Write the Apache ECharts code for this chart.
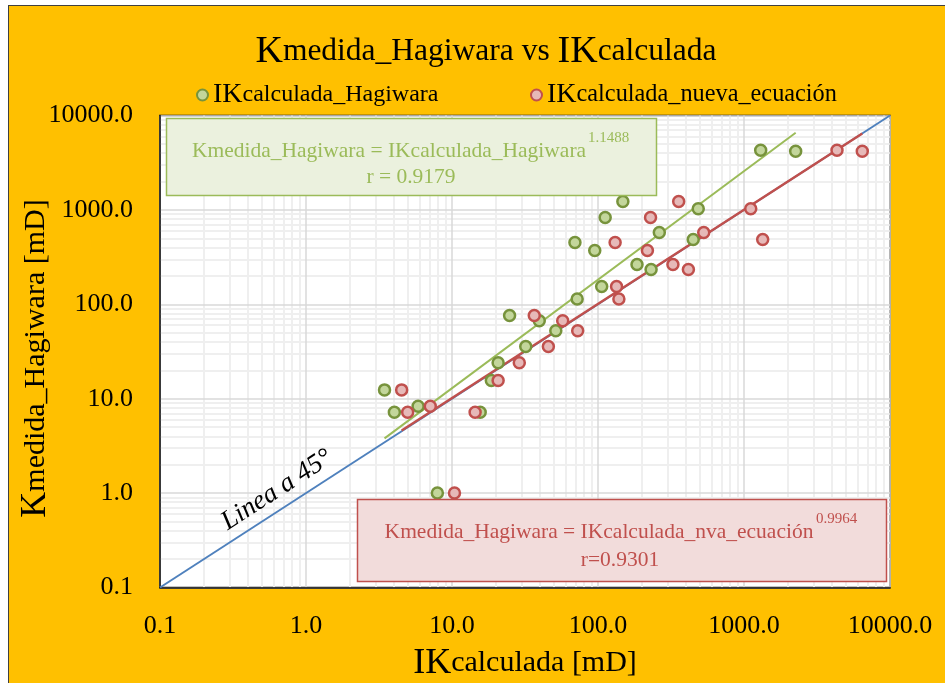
<!DOCTYPE html>
<html><head><meta charset="utf-8">
<script src="https://cdn.jsdelivr.net/npm/echarts@6/dist/echarts.min.js"></script>
<style>
html,body{margin:0;padding:0;background:#fff;overflow:hidden;width:945px;height:683px;}
#frame{position:absolute;left:8px;top:5px;width:945px;height:690px;background:#FFC000;border-left:1.5px solid #404040;border-top:1.5px solid #404040;}
#chart{position:absolute;left:0;top:0;width:945px;height:683px;}
</style></head><body>
<div id="frame"></div><div id="chart"></div>
<script>
// Kmedida_Hagiwara (shared y values), and the two calculated IK series (x values)
const kMedida    = [12.4, 7.2, 8.3, 1.0, 7.2, 15.6, 24, 76, 35.7, 67, 52.5, 451, 114, 371, 154, 831, 1228, 264, 234, 576, 486, 1028, 4289, 4188];
const ikHagiwara = [3.45, 4.03, 5.86, 7.94, 15.6, 18.6, 20.7, 24.8, 32, 39.6, 51.4, 69.5, 72, 95, 106, 112, 148, 185, 231, 263, 449, 486, 1301, 2259];
const ikNueva    = [4.52, 4.97, 7.1, 10.4, 14.4, 20.7, 28.9, 36.6, 45.7, 57.3, 72.6, 131, 139, 218, 134, 229, 357, 326, 416, 530, 1343, 1112, 4335, 6460];
// trendlines (end points) and 45° line
const trendHagiwaraX = [3.45, 2259];
const trendHagiwaraY = [3.8, 6560];
const trendNuevaX = [4.52, 6460];
const trendNuevaY = [4.6, 6445];
const line45X = [0.1, 10000];
const line45Y = [0.1, 10000];
const tickLabels = ['0.1', '1.0', '10.0', '100.0', '1000.0', '10000.0'];
const decades = [0.1, 1, 10, 100, 1000];
const minorSteps = [2, 3, 4, 5, 6, 7, 8, 9];

const FONT = "'Liberation Serif', 'Times New Roman', serif";
const zip = (xs, ys) => xs.map((x, i) => [x, ys[i]]);
const minorVals = [];
decades.forEach(d => minorSteps.forEach(m => minorVals.push(+(d * m).toPrecision(3))));

const tickFmt = v => { const i = Math.round(Math.log10(v)) + 1; return tickLabels[i] !== undefined ? tickLabels[i] : ''; };

const chart = echarts.init(document.getElementById('chart'), null, {renderer: 'canvas'});
const option = {
  backgroundColor: 'transparent',
  animation: false,
  title: {
    text: '{k|K}{r|medida_Hagiwara vs }{k|IK}{r|calculada}',
    left: 481, top: 28, textAlign: 'center',
    textStyle: {
      fontWeight: 'normal',
      rich: {
        k: {fontFamily: FONT, fontSize: 38, fontWeight: 'normal', color: '#000'},
        r: {fontFamily: FONT, fontSize: 31.5, fontWeight: 'normal', color: '#000'}
      }
    }
  },
  legend: [
    {
      data: ['IKcalculada_Hagiwara'], left: 191, top: 76, itemWidth: 11, itemHeight: 11, itemGap: 6,
      formatter: n => '{k|IK}{r|' + n.slice(2) + '}',
      textStyle: {rich: {k: {fontFamily: FONT, fontSize: 28, color: '#000'}, r: {fontFamily: FONT, fontSize: 24, color: '#000'}}}
    },
    {
      data: ['IKcalculada_nueva_ecuación'], left: 525, top: 76, itemWidth: 11, itemHeight: 11, itemGap: 6,
      formatter: n => '{k|IK}{r|' + n.slice(2) + '}',
      textStyle: {rich: {k: {fontFamily: FONT, fontSize: 28, color: '#000'}, r: {fontFamily: FONT, fontSize: 24.3, color: '#000'}}}
    }
  ],
  grid: {left: 160, top: 115.5, width: 730, height: 472, outerBoundsMode: 'none', containLabel: false, show: true, backgroundColor: '#fff', borderColor: '#111', borderWidth: 1.5},
  xAxis: {
    type: 'log', logBase: 10, min: 0.1, max: 10000, z: 1.5,
    name: '{k|IK}{r|calculada [mD]}', nameLocation: 'middle', nameGap: 58, nameMoveOverlap: false,
    nameTextStyle: {rich: {k: {fontFamily: FONT, fontSize: 36, color: '#000'}, r: {fontFamily: FONT, fontSize: 30, color: '#000'}}},
    axisLine: {show: true, lineStyle: {color: '#111', width: 1.5}},
    axisTick: {show: false},
    axisLabel: {formatter: tickFmt, fontFamily: FONT, fontSize: 26, color: '#000', margin: 26},
    splitLine: {show: true, lineStyle: {color: '#D9D9D9', width: 1.5}},
    minorTick: {show: false}, minorSplitLine: {show: false}
  },
  yAxis: {
    type: 'log', logBase: 10, min: 0.1, max: 10000, z: 1.5,
    name: '{k|K}{r|medida_Hagiwara [mD]}', nameLocation: 'middle', nameGap: 106, nameRotate: 90, nameMoveOverlap: false,
    nameTextStyle: {padding: [0, 14, 0, 0], rich: {k: {fontFamily: FONT, fontSize: 36, color: '#000'}, r: {fontFamily: FONT, fontSize: 30, color: '#000'}}},
    axisLine: {show: true, lineStyle: {color: '#111', width: 1.5}},
    axisTick: {show: false},
    axisLabel: {formatter: tickFmt, fontFamily: FONT, fontSize: 26, color: '#000', margin: 27},
    splitLine: {show: true, lineStyle: {color: '#D9D9D9', width: 1.5}}
  },
  series: [
    {
      name: 'minorGrid', type: 'line', data: [], z: 1, silent: true,
      markLine: {
        z: 1, silent: true, symbol: ['none', 'none'], label: {show: false}, animation: false,
        lineStyle: {color: '#EFEFEF', width: 2, type: 'solid'},
        emphasis: {disabled: true},
        data: minorVals.map(v => ({xAxis: v})).concat(minorVals.map(v => ({yAxis: v})))
      }
    },
    {
      name: 'Linea 45', type: 'line', data: zip(line45X, line45Y), symbol: 'none', z: 3, silent: true,
      lineStyle: {color: '#4F81BD', width: 2}
    },
    {
      name: 'Tendencia Hagiwara', type: 'line', data: zip(trendHagiwaraX, trendHagiwaraY), symbol: 'none', z: 3, silent: true,
      lineStyle: {color: '#9BBB59', width: 2}
    },
    {
      name: 'Tendencia nueva', type: 'line', data: zip(trendNuevaX, trendNuevaY), symbol: 'none', z: 4, silent: true,
      lineStyle: {color: '#C0504D', width: 2.5}
    },
    {
      name: 'IKcalculada_Hagiwara', type: 'scatter', z: 5,
      data: zip(ikHagiwara, kMedida), symbol: 'circle', symbolSize: 11,
      itemStyle: {color: '#C3D69B', borderColor: '#77933C', borderWidth: 2.5, opacity: 1}
    },
    {
      name: 'IKcalculada_nueva_ecuación', type: 'scatter', z: 5,
      data: zip(ikNueva, kMedida), symbol: 'circle', symbolSize: 11,
      itemStyle: {color: '#E6B9B8', borderColor: '#C0504D', borderWidth: 2.5, opacity: 1}
    }
  ],
  graphic: [
    {type: 'rect', z: 100, shape: {x: 166.5, y: 118.5, width: 490, height: 77}, style: {fill: '#EBF1DE', stroke: '#9BBB59', lineWidth: 1.5}},
    {type: 'text', z: 101, style: {x: 389, y: 151, text: 'Kmedida_Hagiwara = IKcalculada_Hagiwara', font: "21.5px " + FONT, fill: '#9BBB59', align: 'center', verticalAlign: 'middle'}},
    {type: 'text', z: 101, style: {x: 588, y: 138, text: '1.1488', font: "15px " + FONT, fill: '#9BBB59', align: 'left', verticalAlign: 'middle'}},
    {type: 'text', z: 101, style: {x: 411, y: 177, text: 'r = 0.9179', font: "21.5px " + FONT, fill: '#9BBB59', align: 'center', verticalAlign: 'middle'}},
    {type: 'rect', z: 100, shape: {x: 357.5, y: 499.5, width: 529, height: 82}, style: {fill: '#F2DCDB', stroke: '#C0504D', lineWidth: 1.5}},
    {type: 'text', z: 101, style: {x: 599, y: 532, text: 'Kmedida_Hagiwara = IKcalculada_nva_ecuación', font: "21.5px " + FONT, fill: '#C0504D', align: 'center', verticalAlign: 'middle'}},
    {type: 'text', z: 101, style: {x: 816, y: 519, text: '0.9964', font: "15px " + FONT, fill: '#C0504D', align: 'left', verticalAlign: 'middle'}},
    {type: 'text', z: 101, style: {x: 620, y: 560, text: 'r=0.9301', font: "21.5px " + FONT, fill: '#C0504D', align: 'center', verticalAlign: 'middle'}},
    {type: 'text', z: 101, x: 277, y: 490, rotation: Math.atan(472 / 730), style: {x: 0, y: 0, text: 'Linea a 45°', font: "italic 27px " + FONT, fill: '#000', align: 'center', verticalAlign: 'middle'}}
  ]
};
chart.setOption(option);
</script>
</body></html>
